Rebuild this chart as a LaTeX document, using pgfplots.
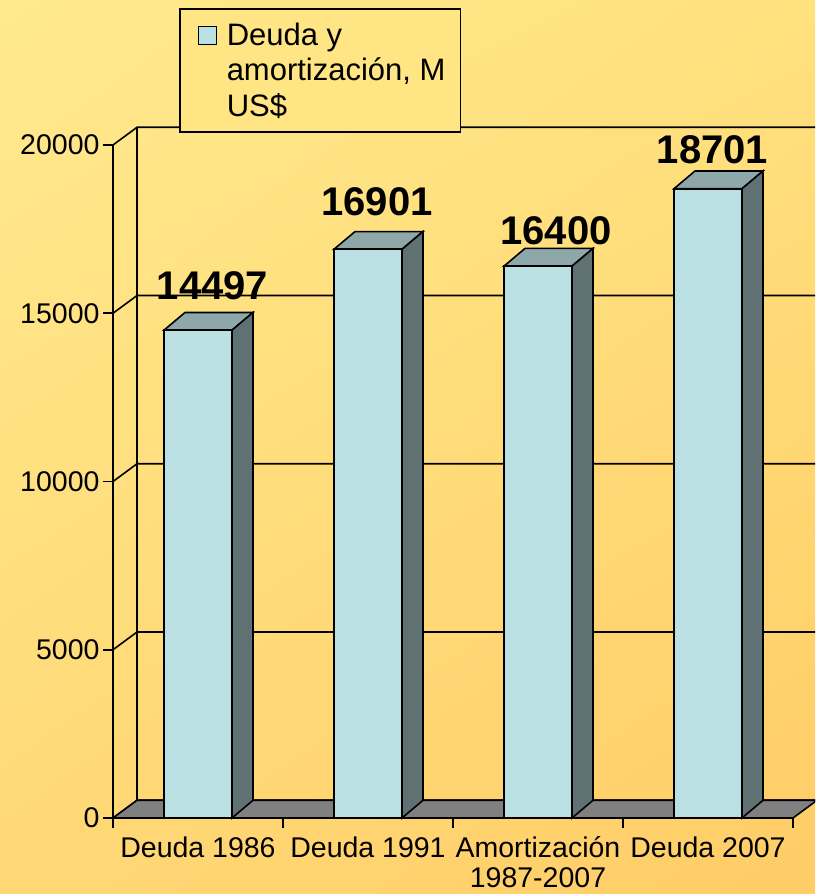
\documentclass[border=0pt]{standalone}
\usepackage{fontspec}
\setmainfont{Liberation Sans}
\usepackage{pgfplots}
\pgfplotsset{compat=1.18}
\usetikzlibrary{shadings}
\definecolor{front}{RGB}{186,224,228}
\definecolor{topc}{RGB}{142,168,170}
\definecolor{side}{RGB}{96,113,115}
\definecolor{floorc}{RGB}{128,128,128}
\definecolor{bgul}{RGB}{255,234,142}
\definecolor{bgur}{RGB}{255,225,126}
\definecolor{bgll}{RGB}{255,216,118}
\definecolor{bglr}{RGB}{255,204,102}
\definecolor{legbg}{RGB}{255,229,132}
\begin{document}
\begin{tikzpicture}
\useasboundingbox (0pt,0pt) rectangle (815pt,894pt);
\clip (0pt,0pt) rectangle (815pt,894pt);
\shade[upper left=bgul, upper right=bgur, lower left=bgll, lower right=bglr] (0pt,0pt) rectangle (815pt,894pt);
\begin{axis}[
  at={(113pt,76pt)}, anchor=south west,
  scale only axis, width=680pt, height=673pt,
  xmin=-0.5, xmax=3.5, ymin=0, ymax=20000,
  clip=false,
  axis x line*=bottom, axis y line*=left,
  axis line style={line width=1.6pt, black},
  xtick={0,1,2,3},
  xticklabels={Deuda 1986, Deuda 1991, Amortización\\1987-2007, Deuda 2007},
  minor xtick={-0.5,0.5,1.5,2.5,3.5},
  major x tick style={draw=none},
  ytick={0,5000,10000,15000,20000},
  tick align=outside,
  major tick length=10pt, minor tick length=10pt,
  tick style={line width=1.6pt, black},
  scaled y ticks=false,
  /pgf/number format/assume math mode=true,
  yticklabel style={/pgf/number format/set thousands separator={}, font=\fontsize{28.5}{32}\selectfont},
  xticklabel style={align=center, font=\fontsize{28.5}{30}\selectfont, yshift=-5pt},
  legend style={at={(axis description cs:0.097,1.2036)}, anchor=north west,
    draw=black, line width=1.6pt, fill=legbg,
    inner xsep=13pt, inner ysep=12pt,
    font=\fontsize{31}{35.5}\selectfont,
    cells={align=left, anchor=west}},
  legend cell align=left,
]
% back wall grid with left-wall diagonals
\addplot[forget plot, black, line width=1.6pt] coordinates {(-0.5,0) (-0.3588,526) (3.6412,526)};
\addplot[forget plot, black, line width=1.6pt] coordinates {(-0.5,5000) (-0.3588,5526) (3.6412,5526)};
\addplot[forget plot, black, line width=1.6pt] coordinates {(-0.5,10000) (-0.3588,10526) (3.6412,10526)};
\addplot[forget plot, black, line width=1.6pt] coordinates {(-0.5,15000) (-0.3588,15526) (3.6412,15526)};
\addplot[forget plot, black, line width=1.6pt] coordinates {(-0.5,20000) (-0.3588,20526) (3.6412,20526)};
\addplot[forget plot, black, line width=1.6pt] coordinates {(-0.3588,526) (-0.3588,20526)};
% floor
\addplot[forget plot, fill=floorc, draw=black, line width=1.6pt] coordinates {(-0.5,0) (3.5,0) (3.6412,526) (-0.3588,526)} -- cycle;
% bar tops
\addplot[forget plot, fill=topc, draw=black, line width=1.6pt] coordinates {(-0.2,14497) (0.2,14497) (0.3235,15023) (-0.0765,15023)} -- cycle;
\addplot[forget plot, fill=topc, draw=black, line width=1.6pt] coordinates {(0.8,16901) (1.2,16901) (1.3235,17427) (0.9235,17427)} -- cycle;
\addplot[forget plot, fill=topc, draw=black, line width=1.6pt] coordinates {(1.8,16400) (2.2,16400) (2.3235,16926) (1.9235,16926)} -- cycle;
\addplot[forget plot, fill=topc, draw=black, line width=1.6pt] coordinates {(2.8,18701) (3.2,18701) (3.3235,19227) (2.9235,19227)} -- cycle;
% bar sides
\addplot[forget plot, fill=side, draw=black, line width=1.6pt] coordinates {(0.2,0) (0.3235,526) (0.3235,15023) (0.2,14497)} -- cycle;
\addplot[forget plot, fill=side, draw=black, line width=1.6pt] coordinates {(1.2,0) (1.3235,526) (1.3235,17427) (1.2,16901)} -- cycle;
\addplot[forget plot, fill=side, draw=black, line width=1.6pt] coordinates {(2.2,0) (2.3235,526) (2.3235,16926) (2.2,16400)} -- cycle;
\addplot[forget plot, fill=side, draw=black, line width=1.6pt] coordinates {(3.2,0) (3.3235,526) (3.3235,19227) (3.2,18701)} -- cycle;
% bar fronts
\addplot[ybar, bar width=0.4, fill=front, draw=black, line width=1.6pt,
  legend image code/.code={\draw[line width=1.2pt, fill=front] (6pt,26pt) rectangle (24pt,44pt); \path[draw=none,fill=none] (0pt,0pt) -- (32pt,0pt);}]
  coordinates {(0,14497) (1,16901) (2,16400) (3,18701)};
\addlegendentry{Deuda y\\amortización, M\\US\$}
% value labels
\addplot[forget plot, draw=none, mark=none, point meta=explicit symbolic,
  nodes near coords,
  nodes near coords style={anchor=base, inner sep=0pt, font=\fontsize{40}{40}\selectfont\bfseries}]
  coordinates {(0.0853,15415)[14497] (1.053,17899)[16901] (2.106,17049)[16400] (3.026,19456)[18701]};
\end{axis}
\end{tikzpicture}
\end{document}
